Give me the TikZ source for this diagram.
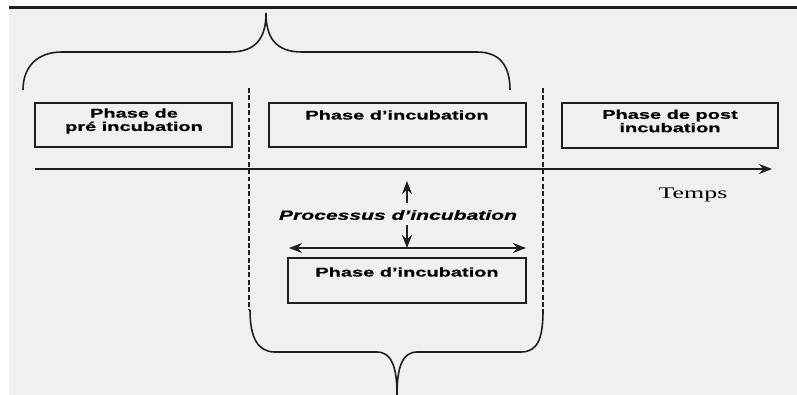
\documentclass[tikz,border=0pt]{standalone}
\usepackage{fontspec}
\setmainfont{Liberation Serif}[FakeStretch=1.6]
\setsansfont{Liberation Sans}[FakeStretch=1.58,FakeBold=0.6]
\usepackage{tikz}
\usetikzlibrary{arrows.meta,positioning}
\definecolor{PaperGray}{HTML}{F0F0F0}
\definecolor{InkGray}{HTML}{1E1E1E}

\begin{document}
\begin{tikzpicture}[
  x=0.02cm,y=-0.02cm,
  phasebox/.style={draw=InkGray,line width=1.5pt,inner sep=0pt},
  phasetext/.style={font=\sffamily\bfseries\fontsize{7.2}{7.6}\selectfont,align=center,inner sep=0pt},
  brace/.style={draw=InkGray,line width=0.9pt},
  divider/.style={draw=InkGray,line width=1.4pt,dash pattern=on 2.8pt off 1.4pt},
  arrow/.style={-{Stealth[length=2.6mm,width=2mm]},draw=InkGray,line width=0.9pt}
]
% background and scanned frame
\useasboundingbox (0,0) rectangle (797,395);
\fill[white] (0,0) rectangle (797,395);
\fill[PaperGray] (9,9) rectangle (797,395);
\fill[InkGray] (9,6) rectangle (797,9);

% phase boxes
\node[phasebox,minimum width=3.94cm,minimum height=0.88cm] (prebox) at (133.5,125) {};
\node[phasebox,minimum width=5.14cm,minimum height=0.88cm] (incbox) at (397.5,125) {};
\node[phasebox,minimum width=4.32cm,minimum height=0.9cm] (postbox) at (670,125.5) {};
\node[phasebox,minimum width=4.76cm,minimum height=0.9cm] (inc2box) at (407,280.5) {};
\node[phasetext] (pre) at (134,121) {Phase de\\pré incubation};
\node[phasetext] (inc) at (397,115) {Phase d'incubation};
\node[phasetext] (post) at (670,121) {Phase de post\\incubation};
\node[phasetext] (inc2) at (407,272) {Phase d'incubation};

% time axis
\coordinate (t0) at (35,169);
\coordinate (t1) at (772,169);
\draw[arrow] (t0) -- (t1);
\node[font=\fontsize{9.2}{10}\selectfont] (temps) at (693,195) {Temps};

% dividers
\draw[divider] (249,88) -- (249,310);
\draw[divider] (543,88) -- (543,310);

% braces
\draw[brace] (23,90) .. controls (23,66) and (38,52) .. (62,52) -- (230,52)
  .. controls (256,52) and (266,38) .. (266,13)
  .. controls (266,38) and (276,52) .. (302,52) -- (477,52)
  .. controls (500,52) and (510,66) .. (510,90);
\draw[brace] (250,310) .. controls (250,338) and (258,352) .. (275,352) -- (377,352)
  .. controls (392,352) and (397,368) .. (397,395)
  .. controls (397,368) and (402,352) .. (417,352) -- (521,352)
  .. controls (538,352) and (543,338) .. (543,310);

% process
\node[font=\sffamily\bfseries\itshape\fontsize{7.6}{8}\selectfont] (proc) at (398,215) {Processus d'incubation};
\coordinate (up) at (407,181);
\coordinate (ub) at (407,203);
\coordinate (dl) at (289,248);
\coordinate (dr) at (526,248);
\coordinate (dt) at (407,225);
\coordinate (dm) at (407,248);
\draw[arrow] (ub) -- (up);
\draw[arrow] (dt) -- (dm);
\draw[arrow,{Stealth[length=2.6mm,width=2mm]}-{Stealth[length=2.6mm,width=2mm]}] (dl) -- (dr);
\end{tikzpicture}
\end{document}
